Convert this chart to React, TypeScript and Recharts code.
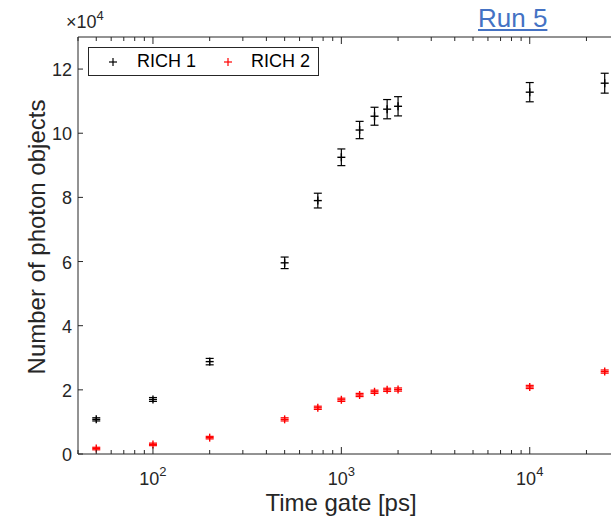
import React from "react";
import { ScatterChart, Scatter, XAxis, YAxis, ErrorBar } from "recharts";

const timeGates = [50, 100, 200, 500, 750, 1000, 1250, 1500, 1750, 2000, 10000, 25000];
const rich1 = [10800, 17000, 28800, 59600, 79000, 92500, 101000, 105300, 107500, 108400, 112800, 115600];
const rich1Err = [500, 600, 1000, 1800, 2300, 2600, 2700, 2800, 3000, 3000, 3000, 3100];
const rich2 = [1700, 3000, 5100, 10800, 14400, 16900, 18400, 19400, 20000, 20100, 20900, 25700];
const rich2Err = [400, 400, 400, 500, 500, 500, 500, 500, 500, 500, 500, 500];

const xTicks = [
  40, 50, 60, 70, 80, 90,
  100, 200, 300, 400, 500, 600, 700, 800, 900,
  1000, 2000, 3000, 4000, 5000, 6000, 7000, 8000, 9000,
  10000, 20000,
];
const yTicks = [0, 20000, 40000, 60000, 80000, 100000, 120000];

const AXIS = "#262626";
const FONT = "'Liberation Sans', Arial, Helvetica, sans-serif";

const data1 = timeGates.map((t, i) => ({ t, v: rich1[i], err: rich1Err[i] }));
const data2 = timeGates.map((t, i) => ({ t, v: rich2[i], err: rich2Err[i] }));

function isDecade(v: number) {
  const e = Math.log10(v);
  return Math.abs(e - Math.round(e)) < 1e-9;
}

// matlab-style inward ticks, labels only on decades
function XTick(props: any) {
  const { x, y, payload, top } = props;
  const v = payload.value as number;
  const major = isDecade(v);
  const len = major ? 7 : 4;
  const dir = top ? 1 : -1;
  return (
    <g>
      <line x1={x} x2={x} y1={y} y2={y + dir * len} stroke={AXIS} strokeWidth={1} />
      {!top && major && (
        <text x={x} y={y + 31} textAnchor="middle" fontSize={18} fill={AXIS}>
          10
          <tspan dy={-9} fontSize={13}>
            {Math.round(Math.log10(v))}
          </tspan>
        </text>
      )}
    </g>
  );
}

function YTick(props: any) {
  const { x, y, payload } = props;
  return (
    <g>
      <line x1={x} x2={x + 5} y1={y} y2={y} stroke={AXIS} strokeWidth={1} />
      <text x={x - 6} y={y + 7} textAnchor="end" fontSize={18} fill={AXIS}>
        {payload.value / 10000}
      </text>
    </g>
  );
}

function plus(color: string) {
  return (props: any) => {
    const { cx, cy } = props;
    return (
      <g>
        <line x1={cx - 4} x2={cx + 4} y1={cy} y2={cy} stroke={color} strokeWidth={1.4} />
        <line x1={cx} x2={cx} y1={cy - 4} y2={cy + 4} stroke={color} strokeWidth={1.4} />
      </g>
    );
  };
}

function LegendPlus({ color }: { color: string }) {
  return (
    <svg width={10} height={10} style={{ display: "block" }}>
      <line x1={1} x2={9} y1={5} y2={5} stroke={color} strokeWidth={1.2} />
      <line x1={5} x2={5} y1={1} y2={9} stroke={color} strokeWidth={1.2} />
    </svg>
  );
}

export default function App() {
  return (
    <div
      style={{
        position: "absolute",
        left: 0,
        top: 0,
        width: 611,
        height: 524,
        background: "#fff",
        fontFamily: FONT,
        overflow: "hidden",
      }}
    >
      <ScatterChart width={611} height={524} margin={{ top: 0, right: 0, bottom: 0, left: 0 }}>
        <XAxis
          xAxisId="top"
          orientation="top"
          dataKey="t"
          type="number"
          scale="log"
          domain={[40, 27000]}
          allowDataOverflow
          ticks={xTicks}
          height={37}
          tickSize={0}
          tickMargin={0}
          tickLine={false}
          axisLine={{ stroke: AXIS }}
          tick={<XTick top />}
          interval={0}
        />
        <XAxis
          dataKey="t"
          type="number"
          scale="log"
          domain={[40, 27000]}
          allowDataOverflow
          ticks={xTicks}
          height={70}
          tickSize={0}
          tickMargin={0}
          tickLine={false}
          axisLine={{ stroke: AXIS }}
          tick={<XTick />}
          interval={0}
        />
        <YAxis
          dataKey="v"
          type="number"
          domain={[0, 130000]}
          allowDataOverflow
          ticks={yTicks}
          width={78}
          tickSize={0}
          tickMargin={0}
          tickLine={false}
          axisLine={{ stroke: AXIS }}
          tick={<YTick />}
          interval={0}
        />
        <Scatter name="RICH 1" data={data1} shape={plus("#000000")} isAnimationActive={false}>
          <ErrorBar dataKey="err" direction="y" width={4} stroke="#000000" strokeWidth={1.2} />
        </Scatter>
        <Scatter name="RICH 2" data={data2} shape={plus("#ff0000")} isAnimationActive={false}>
          <ErrorBar dataKey="err" direction="y" width={4} stroke="#ff0000" strokeWidth={1.2} />
        </Scatter>
      </ScatterChart>

      {/* exponent label */}
      <div style={{ position: "absolute", left: 66, top: 13, fontSize: 18, color: AXIS, lineHeight: "18px" }}>
        ×10<sup style={{ fontSize: 13, verticalAlign: 0, position: "relative", top: -8 }}>4</sup>
      </div>

      {/* title */}
      <div
        style={{
          position: "absolute",
          left: 478,
          top: 3,
          fontSize: 26,
          color: "#4472c4",
          textDecoration: "underline",
          lineHeight: "30px",
        }}
      >
        Run 5
      </div>

      {/* legend */}
      <div
        style={{
          position: "absolute",
          left: 88,
          top: 47,
          width: 229,
          height: 27,
          border: `1px solid ${AXIS}`,
          background: "#fff",
          display: "flex",
          alignItems: "center",
          fontSize: 18,
          color: "#000",
        }}
      >
        <div style={{ marginLeft: 19 }}>
          <LegendPlus color="#000000" />
        </div>
        <span style={{ marginLeft: 19 }}>RICH 1</span>
        <div style={{ marginLeft: 27 }}>
          <LegendPlus color="#ff0000" />
        </div>
        <span style={{ marginLeft: 18 }}>RICH 2</span>
      </div>

      {/* axis labels */}
      <div
        style={{
          position: "absolute",
          left: 341,
          top: 491,
          transform: "translateX(-50%)",
          fontSize: 24,
          color: AXIS,
          whiteSpace: "nowrap",
          lineHeight: "24px",
        }}
      >
        Time gate [ps]
      </div>
      <div
        style={{
          position: "absolute",
          left: 37,
          top: 237,
          transform: "translate(-50%, -50%) rotate(-90deg)",
          fontSize: 24,
          color: AXIS,
          whiteSpace: "nowrap",
          lineHeight: "24px",
        }}
      >
        Number of photon objects
      </div>
    </div>
  );
}
